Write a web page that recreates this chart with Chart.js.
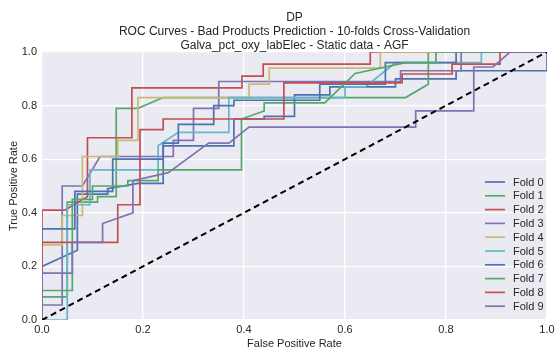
<!DOCTYPE html>
<html>
<head>
<meta charset="utf-8">
<script src="https://cdn.jsdelivr.net/npm/chart.js@4.4.0/dist/chart.umd.min.js"></script>
<style>
  html, body { margin: 0; padding: 0; background: #fff; }
  canvas { display: block; }
</style>
</head>
<body>
<canvas id="roc" width="556" height="349"></canvas>
<script>
// ROC data per fold (false positive rate / true positive rate)
const fpr0 = [0, 0, 0.07, 0.07, 0.13, 0.13, 0.19, 0.24, 0.24, 0.38, 0.38, 0.44, 0.44, 0.5, 0.5, 0.57, 0.57, 0.7, 0.7, 0.82, 0.82, 1, 1];
const tpr0 = [0, 0.2, 0.26, 0.47, 0.47, 0.49, 0.51, 0.51, 0.65, 0.65, 0.75, 0.75, 0.76, 0.76, 0.84, 0.84, 0.87, 0.87, 0.9, 0.9, 0.93, 0.93, 1];
const fpr1 = [0, 0, 0.05, 0.05, 0.11, 0.11, 0.147, 0.147, 0.19, 0.24, 0.72, 0.765, 0.765, 1];
const tpr1 = [0, 0.086, 0.086, 0.44, 0.44, 0.46, 0.46, 0.79, 0.79, 0.83, 0.83, 0.88, 1, 1];
const fpr2 = [0, 0, 0.045, 0.09, 0.09, 0.178, 0.178, 0.396, 0.396, 0.438, 0.438, 0.65, 0.65, 1];
const tpr2 = [0, 0.41, 0.41, 0.46, 0.68, 0.68, 0.866, 0.866, 0.91, 0.91, 0.955, 0.955, 1, 1];
const fpr3 = [0, 0, 0.04, 0.04, 0.08, 0.115, 0.26, 0.26, 0.3, 0.3, 0.35, 0.35, 0.71, 0.71, 0.83, 0.83, 1];
const tpr3 = [0, 0.056, 0.056, 0.5, 0.5, 0.61, 0.61, 0.67, 0.67, 0.79, 0.79, 0.89, 0.89, 0.93, 0.93, 1, 1];
const fpr4 = [0, 0, 0.04, 0.04, 0.08, 0.08, 0.15, 0.15, 0.19, 0.19, 0.41, 0.41, 0.45, 0.45, 0.67, 0.67, 1];
const tpr4 = [0, 0.28, 0.28, 0.39, 0.39, 0.61, 0.61, 0.67, 0.67, 0.83, 0.83, 0.88, 0.88, 0.94, 0.94, 1, 1];
const fpr5 = [0, 0.05, 0.05, 0.095, 0.095, 0.23, 0.23, 0.27, 0.37, 0.37, 0.6, 0.6, 0.64, 0.7, 0.87, 0.87, 1];
const tpr5 = [0, 0, 0.43, 0.43, 0.56, 0.56, 0.65, 0.7, 0.7, 0.83, 0.83, 0.87, 0.87, 0.96, 0.96, 1, 1];
const fpr6 = [0, 0, 0.065, 0.065, 0.14, 0.14, 0.24, 0.24, 0.27, 0.27, 0.34, 0.34, 0.38, 0.38, 0.55, 0.55, 0.68, 0.68, 0.82, 0.82, 1];
const tpr6 = [0, 0.34, 0.34, 0.48, 0.48, 0.6, 0.6, 0.66, 0.66, 0.73, 0.73, 0.8, 0.8, 0.82, 0.82, 0.88, 0.88, 0.96, 0.96, 1, 1];
const fpr7 = [0, 0, 0.06, 0.06, 0.1, 0.1, 0.17, 0.17, 0.23, 0.23, 0.395, 0.395, 0.44, 0.44, 0.56, 0.62, 0.72, 0.78, 0.78, 1];
const tpr7 = [0, 0.11, 0.11, 0.45, 0.45, 0.5, 0.5, 0.52, 0.52, 0.56, 0.56, 0.75, 0.78, 0.81, 0.81, 0.92, 0.96, 0.96, 1, 1];
const fpr8 = [0, 0, 0.15, 0.15, 0.194, 0.194, 0.24, 0.24, 0.479, 0.479, 0.713, 0.713, 0.812, 0.812, 0.907, 0.907, 1];
const tpr8 = [0, 0.29, 0.29, 0.43, 0.43, 0.71, 0.71, 0.75, 0.75, 0.885, 0.885, 0.918, 0.918, 0.955, 0.955, 1, 1];
const fpr9 = [0, 0, 0.06, 0.06, 0.12, 0.12, 0.18, 0.18, 0.25, 0.33, 0.37, 0.41, 0.74, 0.74, 0.855, 0.855, 0.893, 0.927, 1];
const tpr9 = [0, 0.175, 0.175, 0.29, 0.29, 0.36, 0.4, 0.52, 0.55, 0.66, 0.66, 0.72, 0.72, 0.78, 0.78, 0.944, 0.944, 1, 1];

const foldLabels = ["Fold 0", "Fold 1", "Fold 2", "Fold 3", "Fold 4", "Fold 5", "Fold 6", "Fold 7", "Fold 8", "Fold 9"];
const foldFpr = [fpr0, fpr1, fpr2, fpr3, fpr4, fpr5, fpr6, fpr7, fpr8, fpr9];
const foldTpr = [tpr0, tpr1, tpr2, tpr3, tpr4, tpr5, tpr6, tpr7, tpr8, tpr9];
const chanceLine = [0, 1];
const axisTicks = [0, 0.2, 0.4, 0.6, 0.8, 1.0];

const titleLines = [
  "DP",
  "ROC Curves - Bad Products Prediction - 10-folds Cross-Validation",
  "Galva_pct_oxy_labElec - Static data - AGF",
];

// seaborn "deep" palette
const palette = ["#4C72B0", "#55A868", "#C44E52", "#8172B2", "#CCB974", "#64B5CD"];
const FONT = "'Liberation Sans', Arial, sans-serif";

const datasets = foldLabels.map((label, i) => ({
  label: label,
  data: foldFpr[i].map((x, j) => ({ x: x, y: foldTpr[i][j] })),
  borderColor: palette[i % palette.length],
  borderWidth: 1.7,
  pointRadius: 0,
  tension: 0,
  fill: false,
  order: 10 - i,
}));

datasets.push({
  label: "chance",
  data: chanceLine.map((v) => ({ x: v, y: v })),
  borderColor: "#000",
  borderWidth: 2,
  borderDash: [6, 4],
  pointRadius: 0,
  fill: false,
  order: 0,
});

// grey plot background + titles + legend
const decor = {
  id: "decor",
  beforeDraw(chart) {
    const { ctx, chartArea: a } = chart;
    ctx.save();
    ctx.fillStyle = "#EAEAF2";
    ctx.fillRect(a.left, a.top, a.right - a.left, a.bottom - a.top);
    ctx.restore();
  },
  afterDraw(chart) {
    const { ctx, chartArea: a } = chart;
    ctx.save();
    ctx.fillStyle = "#262626";
    ctx.font = "12px " + FONT;
    ctx.textAlign = "center";
    ctx.textBaseline = "middle";
    const cx = (a.left + a.right) / 2;
    titleLines.forEach((t, i) => ctx.fillText(t, cx, 17.5 + i * 14));

    // legend, lower right inside the axes
    ctx.font = "11px " + FONT;
    ctx.textAlign = "left";
    foldLabels.forEach((label, i) => {
      const y = 182 + i * 13.8;
      ctx.strokeStyle = palette[i % palette.length];
      ctx.lineWidth = 1.7;
      ctx.beginPath();
      ctx.moveTo(485, y);
      ctx.lineTo(505, y);
      ctx.stroke();
      ctx.fillStyle = "#262626";
      ctx.fillText(label, 513, y + 0.5);
    });
    ctx.restore();
  },
};

function axis(title, fit, titlePad, tickPad) {
  return {
    type: "linear",
    min: 0,
    max: 1,
    afterBuildTicks: (s) => {
      s.ticks = axisTicks.map((v) => ({ value: v }));
    },
    afterFit: fit,
    grid: {
      color: "#ffffff",
      lineWidth: 1.3,
      drawTicks: false,
    },
    border: { display: false },
    ticks: {
      color: "#262626",
      padding: tickPad,
      font: { size: 11, family: FONT },
      callback: (v) => Number(v).toFixed(1),
    },
    title: {
      display: true,
      text: title,
      color: "#262626",
      padding: titlePad,
      font: { size: 11, family: FONT },
    },
  };
}

new Chart(document.getElementById("roc").getContext("2d"), {
  type: "line",
  data: { datasets: datasets },
  options: {
    responsive: false,
    animation: false,
    devicePixelRatio: 1,
    layout: { padding: { top: 52, right: 9, left: 2, bottom: 0 } },
    plugins: {
      legend: { display: false },
      title: { display: false },
      tooltip: { enabled: false },
    },
    scales: {
      x: axis("False Positive Rate", (s) => {
        s.height = 29;
        s.paddingLeft = 0;
        s.paddingRight = 0;
      }, { top: 4, bottom: -2 }, 3),
      y: axis("True Positive Rate", (s) => {
        s.width = 40;
        s.paddingTop = 0;
        s.paddingBottom = 0;
      }, { top: 5, bottom: 0 }, 5),
    },
  },
  plugins: [decor],
});
</script>
</body>
</html>
